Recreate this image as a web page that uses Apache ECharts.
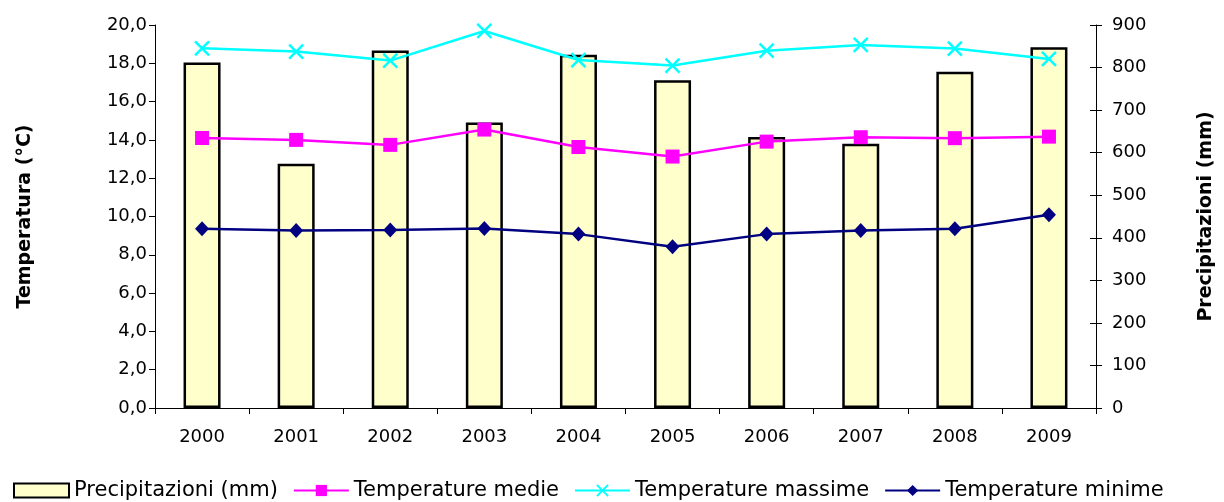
<!DOCTYPE html>
<html>
<head>
<meta charset="utf-8">
<script src="https://cdn.jsdelivr.net/npm/echarts@6/dist/echarts.min.js"></script>
<style>
html,body{margin:0;padding:0;background:#fff;}
#chart{width:1224px;height:502px;}
</style>
</head>
<body>
<div id="chart"></div>
<script>
const years = ['2000','2001','2002','2003','2004','2005','2006','2007','2008','2009'];
const precipitazioni = [812, 574, 840, 671, 830, 770, 637, 621, 790, 848];
const tempMedie = [14.10, 14.00, 13.74, 14.54, 13.63, 13.13, 13.91, 14.14, 14.09, 14.17];
const tempMassime = [18.78, 18.61, 18.14, 19.69, 18.17, 17.88, 18.66, 18.96, 18.77, 18.23];
const tempMinime = [9.36, 9.27, 9.29, 9.37, 9.08, 8.42, 9.08, 9.27, 9.36, 10.09];

const FONT = 'DejaVu Sans';
const chart = echarts.init(document.getElementById('chart'), null, {renderer:'canvas'});
chart.setOption({
  animation: false,
  backgroundColor: '#ffffff',
  textStyle: {fontFamily: FONT, color: '#000'},
  grid: {left: 155, right: 126, top: 25, bottom: 94, containLabel: false},
  legend: {
    left: 8, top: 475,
    itemWidth: 55, itemHeight: 14, itemGap: 15,
    textStyle: {fontFamily: FONT, fontSize: 21, color: '#000'},
    data: [
      {name: 'Precipitazioni (mm)', icon: 'rect'},
      'Temperature medie', 'Temperature massime', 'Temperature minime'
    ]
  },
  xAxis: {
    type: 'category', data: years,
    axisLine: {lineStyle: {color: '#000', width: 1}},
    axisTick: {show: true, length: 6, lineStyle: {color: '#000'}},
    axisLabel: {fontFamily: FONT, fontSize: 18, color: '#000', margin: 20}
  },
  yAxis: [
    {
      type: 'value', min: 0, max: 20, interval: 2, position: 'left',
      name: 'Temperatura (°C)', nameLocation: 'middle', nameRotate: 90, nameGap: 120,
      nameTextStyle: {fontFamily: FONT, fontSize: 19, fontWeight: 'bold', color: '#000'},
      axisLine: {show: true, lineStyle: {color: '#000'}},
      axisTick: {show: true, length: 6, lineStyle: {color: '#000'}},
      splitLine: {show: false},
      axisLabel: {fontFamily: FONT, fontSize: 18, color: '#000', margin: 8,
        formatter: v => v.toFixed(1).replace('.', ',')}
    },
    {
      type: 'value', min: 0, max: 900, interval: 100, position: 'right',
      name: 'Precipitazioni (mm)', nameLocation: 'middle', nameRotate: 90, nameGap: 101,
      nameTextStyle: {fontFamily: FONT, fontSize: 19, fontWeight: 'bold', color: '#000'},
      axisLine: {show: true, lineStyle: {color: '#000'}},
      axisTick: {show: true, length: 6, lineStyle: {color: '#000'}},
      splitLine: {show: false},
      axisLabel: {fontFamily: FONT, fontSize: 18, color: '#000', margin: 16}
    },
    {
      type: 'value', min: 0, max: 900, interval: 100, position: 'right',
      axisLine: {show: false},
      axisTick: {show: true, inside: true, length: 6, lineStyle: {color: '#000'}},
      splitLine: {show: false},
      axisLabel: {show: false}
    }
  ],
  series: [
    {
      name: 'Precipitazioni (mm)', type: 'bar', yAxisIndex: 1, data: precipitazioni,
      barWidth: 37,
      itemStyle: {color: '#FFFFCC', borderColor: '#000', borderWidth: 2.5},
      z: 1
    },
    {
      name: 'Temperature medie', type: 'line', yAxisIndex: 0, data: tempMedie,
      symbol: 'rect', symbolSize: 14,
      lineStyle: {color: '#FF00FF', width: 2.5},
      itemStyle: {color: '#FF00FF'},
      z: 3
    },
    {
      name: 'Temperature massime', type: 'line', yAxisIndex: 0, data: tempMassime,
      symbol: 'path://M0,0L10,10M10,0L0,10', symbolSize: 14,
      lineStyle: {color: '#00FFFF', width: 2.5},
      itemStyle: {color: '#00FFFF', borderColor: '#00FFFF', borderWidth: 2.5},
      z: 3
    },
    {
      name: 'Temperature minime', type: 'line', yAxisIndex: 0, data: tempMinime,
      symbol: 'diamond', symbolSize: [14, 15],
      lineStyle: {color: '#000080', width: 2.5},
      itemStyle: {color: '#000080'},
      z: 3
    }
  ]
});
</script>
</body>
</html>
